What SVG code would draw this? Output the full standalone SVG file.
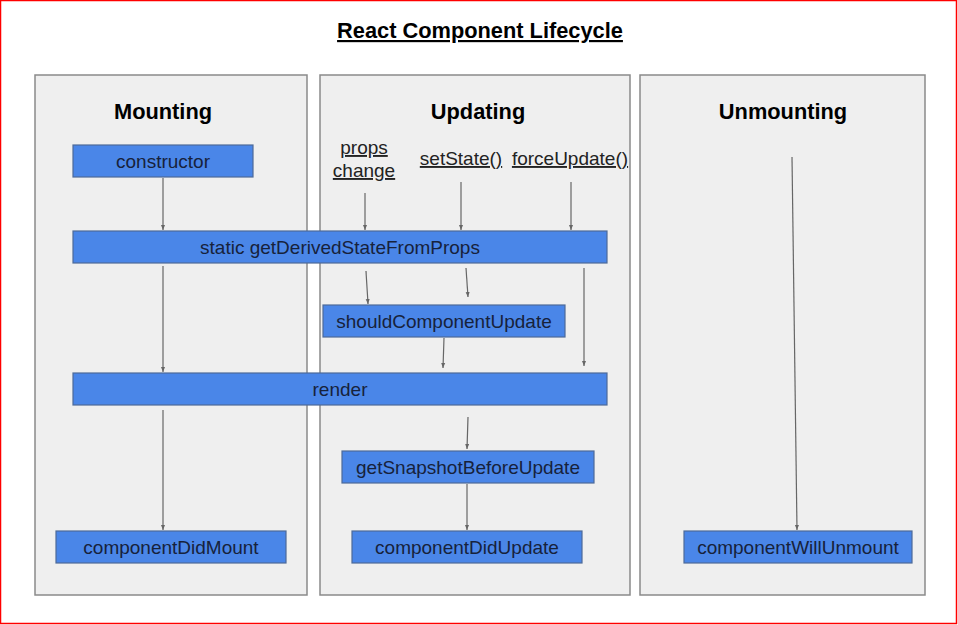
<svg xmlns="http://www.w3.org/2000/svg" width="958" height="625" viewBox="0 0 958 625">
<style>
.panel{fill:#efefef;stroke:#8a8a8a;stroke-width:1.5}
.box{fill:#4a86e8;stroke:#4d6a98;stroke-width:1.2}
.bt{font-family:"Liberation Sans",Arial,sans-serif;font-size:19px;fill:#17223b;text-anchor:middle}
.head{font-family:"Liberation Sans",Arial,sans-serif;font-size:21.8px;font-weight:bold;fill:#000;text-anchor:middle}
.trig{font-family:"Liberation Sans",Arial,sans-serif;font-size:19px;fill:#222;text-anchor:middle;text-decoration:underline}
.conn line{stroke:#666;stroke-width:1.2;fill:none}
</style>
<defs>
<marker id="ah" viewBox="0 0 10 10" refX="10" refY="5" markerWidth="5" markerHeight="5" orient="auto" markerUnits="userSpaceOnUse">
<path d="M0,1 L10,5 L0,9 z" fill="#666"/>
</marker>
</defs>
<rect x="0" y="0" width="958" height="625" fill="#fff"/>
<rect x="0.5" y="0.5" width="956" height="623" fill="none" stroke="#ff0000" stroke-width="1.5"/>
<text x="480" y="38" font-family="Liberation Sans,Arial,sans-serif" font-size="21.8" font-weight="bold" text-anchor="middle" text-decoration="underline" fill="#000">React Component Lifecycle</text>

<g id="panel-mounting"><rect class="panel" x="35" y="75" width="272" height="520"/><text class="head" x="163" y="119">Mounting</text></g>
<g id="panel-updating"><rect class="panel" x="320" y="75" width="310" height="520"/><text class="head" x="478" y="119">Updating</text></g>
<g id="panel-unmounting"><rect class="panel" x="640" y="75" width="285" height="520"/><text class="head" x="783" y="119">Unmounting</text></g>

<g id="trig-props"><text class="trig" x="364" y="154">props</text><text class="trig" x="364" y="177">change</text></g>
<g id="trig-setstate"><text class="trig" x="461" y="165">setState()</text></g>
<g id="trig-forceupdate"><text class="trig" x="570" y="165">forceUpdate()</text></g>

<g id="constructor"><rect class="box" x="73" y="145" width="180" height="32"/><text class="bt" x="163" y="168">constructor</text></g>
<g id="gdsfp"><rect class="box" x="73" y="231" width="534" height="32"/><text class="bt" x="340" y="254">static getDerivedStateFromProps</text></g>
<g id="scu"><rect class="box" x="323" y="305" width="242" height="32"/><text class="bt" x="444" y="328">shouldComponentUpdate</text></g>
<g id="render"><rect class="box" x="73" y="373" width="534" height="32"/><text class="bt" x="340" y="396">render</text></g>
<g id="gsbu"><rect class="box" x="342" y="451" width="252" height="32"/><text class="bt" x="468" y="474">getSnapshotBeforeUpdate</text></g>
<g id="cdm"><rect class="box" x="56" y="531" width="230" height="32"/><text class="bt" x="171" y="554">componentDidMount</text></g>
<g id="cdu"><rect class="box" x="352" y="531" width="230" height="32"/><text class="bt" x="467" y="554">componentDidUpdate</text></g>
<g id="cwu"><rect class="box" x="684" y="531" width="228" height="32"/><text class="bt" x="798" y="554">componentWillUnmount</text></g>

<g id="connectors" class="conn">
<line x1="163" y1="178" x2="163" y2="230" marker-end="url(#ah)"/>
<line x1="365" y1="193" x2="365" y2="230" marker-end="url(#ah)"/>
<line x1="461" y1="182" x2="461" y2="230" marker-end="url(#ah)"/>
<line x1="571" y1="182" x2="571" y2="230" marker-end="url(#ah)"/>
<line x1="163" y1="266" x2="163" y2="372" marker-end="url(#ah)"/>
<line x1="366" y1="271" x2="368" y2="304" marker-end="url(#ah)"/>
<line x1="466" y1="268" x2="468" y2="297" marker-end="url(#ah)"/>
<line x1="584" y1="268" x2="584" y2="366" marker-end="url(#ah)"/>
<line x1="444" y1="338" x2="443" y2="368" marker-end="url(#ah)"/>
<line x1="468" y1="417" x2="467" y2="449" marker-end="url(#ah)"/>
<line x1="467" y1="484" x2="467" y2="530" marker-end="url(#ah)"/>
<line x1="163" y1="410" x2="163" y2="530" marker-end="url(#ah)"/>
<line x1="792" y1="157" x2="797" y2="530" marker-end="url(#ah)"/>
</g>
</svg>
